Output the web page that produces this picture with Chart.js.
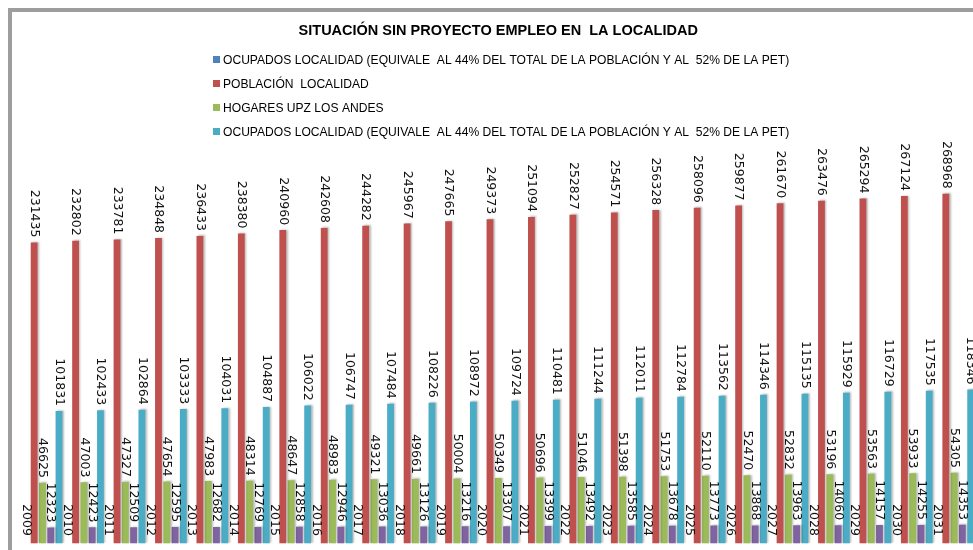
<!DOCTYPE html>
<html>
<head>
<meta charset="utf-8">
<script src="https://cdn.jsdelivr.net/npm/chart.js@4.4.0/dist/chart.umd.min.js"></script>
<style>
  html, body { margin: 0; padding: 0; background: #ffffff; overflow: hidden; width: 973px; height: 550px; }
  #frame { position: absolute; left: 8px; top: 8px; width: 1000px; height: 600px;
           border-left: 4px solid #9d9d9d; border-top: 4px solid #9d9d9d; box-sizing: border-box; }
  #c { position: absolute; left: 0; top: 0; }
</style>
</head>
<body>
<div id="frame"></div>
<canvas id="c" width="990" height="550"></canvas>
<script>
const TITLE = 'SITUACIÓN SIN PROYECTO EMPLEO EN  LA LOCALIDAD';
const categories = ['2009','2010','2011','2012','2013','2014','2015','2016','2017','2018','2019','2020',
                    '2021','2022','2023','2024','2025','2026','2027','2028','2029','2030','2031'];
const yearValues = [2009,2010,2011,2012,2013,2014,2015,2016,2017,2018,2019,2020,
                    2021,2022,2023,2024,2025,2026,2027,2028,2029,2030,2031];
const poblacionLocalidad = [231435,232802,233781,234848,236433,238380,240960,242608,244282,245967,247665,249373,
                            251094,252827,254571,256328,258096,259877,261670,263476,265294,267124,268968];
const hogaresUpz = [46625,47003,47327,47654,47983,48314,48647,48983,49321,49661,50004,50349,
                    50696,51046,51398,51753,52110,52470,52832,53196,53563,53933,54305];
const ocupadosUpz = [12323,12423,12509,12595,12682,12769,12858,12946,13036,13126,13216,13307,
                     13399,13492,13585,13678,13773,13868,13963,14060,14157,14255,14353];
const ocupadosLocalidad = [101831,102433,102864,103333,104031,104887,106022,106747,107484,108226,108972,109724,
                           110481,111244,112011,112784,113562,114346,115135,115929,116729,117535,118346];
const LBL_OCUP = 'OCUPADOS LOCALIDAD (EQUIVALE  AL 44% DEL TOTAL DE LA POBLACIÓN Y AL  52% DE LA PET)';
const LBL_POB = 'POBLACIÓN  LOCALIDAD';
const LBL_HOG = 'HOGARES UPZ LOS ANDES';

const labelFont = '12.5px "DejaVu Sans", sans-serif';

const barShadow = {
  id: 'barShadow',
  beforeDatasetsDraw(chart) {
    const ctx = chart.ctx;
    ctx.save();
    ctx.shadowColor = 'rgba(0,0,0,0.28)';
    ctx.shadowBlur = 2;
    ctx.shadowOffsetX = 1.5;
    ctx.shadowOffsetY = -0.5;
  },
  afterDatasetsDraw(chart) {
    chart.ctx.restore();
  }
};

const valueLabels = {
  id: 'valueLabels',
  afterDatasetsDraw(chart) {
    const ctx = chart.ctx;
    ctx.save();
    ctx.font = labelFont;
    ctx.fillStyle = '#111111';
    ctx.textAlign = 'right';
    ctx.textBaseline = 'middle';
    chart.data.datasets.forEach((ds, di) => {
      const meta = chart.getDatasetMeta(di);
      meta.data.forEach((el, i) => {
        ctx.save();
        ctx.translate(el.x, el.y - 5);
        ctx.rotate(Math.PI / 2);
        ctx.fillText(String(ds.data[i]), 0, 0);
        ctx.restore();
      });
    });
    ctx.restore();
  }
};

const sideLegend = {
  id: 'sideLegend',
  afterDraw(chart) {
    const ctx = chart.ctx;
    ctx.save();
    ctx.font = '13px "Liberation Sans", sans-serif';
    ctx.textAlign = 'left';
    ctx.textBaseline = 'middle';
    let row = 0;
    chart.data.datasets.forEach(ds => {
      if (!ds.legend) return;
      const y = 60 + row * 24;
      ctx.fillStyle = ds.legendColor;
      ctx.fillRect(213, y - 4, 7, 7);
      ctx.fillStyle = '#000000';
      ctx.save();
      ctx.translate(223, y);
      ctx.scale(0.93, 1);
      ctx.fillText(ds.label, 0, 0);
      ctx.restore();
      row++;
    });
    ctx.restore();
  }
};

new Chart(document.getElementById('c'), {
  type: 'bar',
  data: {
    labels: categories,
    datasets: [
      { label: LBL_OCUP, data: yearValues, backgroundColor: 'rgba(79,129,189,0)', legendColor: '#4F81BD', legend: true },
      { label: LBL_POB, data: poblacionLocalidad, backgroundColor: '#C0504D', legendColor: '#C0504D', legend: true },
      { label: LBL_HOG, data: hogaresUpz, backgroundColor: '#9BBB59', legendColor: '#9BBB59', legend: true },
      { label: 'OCUPADOS UPZ', data: ocupadosUpz, backgroundColor: '#8064A2', legendColor: '#8064A2', legend: false },
      { label: LBL_OCUP, data: ocupadosLocalidad, backgroundColor: '#4BACC6', legendColor: '#4BACC6', legend: true }
    ]
  },
  options: {
    responsive: false,
    animation: false,
    devicePixelRatio: 1,
    layout: { padding: { left: 21.7, right: 15.2, top: 0, bottom: 6.5 } },
    datasets: { bar: { categoryPercentage: 1.0, barPercentage: 0.82 } },
    plugins: {
      legend: { display: false },
      tooltip: { enabled: false },
      title: {
        display: true,
        text: TITLE,
        color: '#000000',
        font: { family: '"Liberation Sans", sans-serif', size: 14.5, weight: 'bold' },
        padding: { top: 22.5, bottom: 113.4 }
      }
    },
    scales: {
      x: { display: false, offset: true },
      y: { display: false, min: 0, max: 300000 }
    }
  },
  plugins: [barShadow, valueLabels, sideLegend]
});
</script>
</body>
</html>
